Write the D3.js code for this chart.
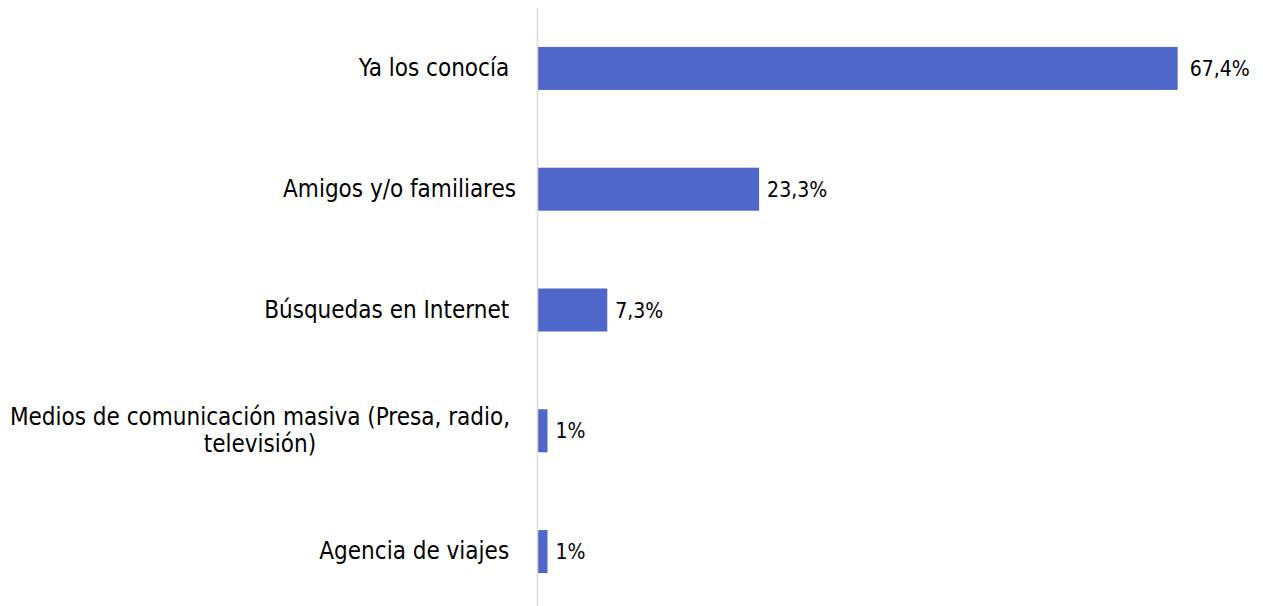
<!DOCTYPE html>
<html><head><meta charset="utf-8">
<script src="https://cdn.jsdelivr.net/npm/d3@7"></script>
<style>
html,body{margin:0;padding:0;background:#fff;}
svg{display:block;}
text{font-family:"DejaVu Sans Condensed","DejaVu Sans",sans-serif;fill:#000;white-space:pre;}
.cat{font-size:24px;}
.val{font-size:21px;}
</style></head>
<body><svg id="c" width="1263" height="606"></svg>
<script>
const categories = ["Ya los conocía ", "Amigos y/o familiares", "Búsquedas en Internet ", "Medios de comunicación masiva (Presa, radio, televisión)", "Agencia de viajes "];
const values = [67.4, 23.3, 7.3, 1, 1];
const valueLabels = ["67,4%", "23,3%", "7,3%", "1%", "1%"];

const svg = d3.select("#c");
const x0 = 538;
const x = d3.scaleLinear().domain([0, 100]).range([x0, x0 + 949]);
const y = d3.scaleBand().domain(categories).range([8, 612]).paddingInner(0.644).paddingOuter(0.322);

svg.selectAll("rect.bar").data(categories).enter().append("rect")
  .attr("class","bar")
  .attr("x", x(0))
  .attr("y", d => y(d))
  .attr("width", (d,i) => x(values[i]) - x(0))
  .attr("height", y.bandwidth())
  .attr("fill", "#4e67c8");

// axis line
svg.append("line").attr("x1", x0 - 0.5).attr("x2", x0 - 0.5).attr("y1", 8).attr("y2", 606)
  .attr("stroke", "#d9d9d9").attr("stroke-width", 1.5);

// value labels
svg.selectAll("text.val").data(categories).enter().append("text")
  .attr("class","val")
  .attr("x", (d,i) => x(values[i]) + (i === 0 ? 12 : 8))
  .attr("y", d => y(d) + y.bandwidth()/2)
  .attr("dy", "0.36em")
  .text((d,i) => valueLabels[i]);

// category labels with wrapping
const rightEdge = 516;
const maxW = 525;
categories.forEach(c => {
  const cy = y(c) + y.bandwidth()/2;
  const g = svg.append("g");
  const words = c.split(" ");
  const lines = [];
  let cur = "";
  const tmp = g.append("text").attr("class","cat");
  words.forEach(w => {
    const t = cur ? cur + " " + w : w;
    tmp.text(t);
    if (tmp.node().getComputedTextLength() > maxW && cur) { lines.push(cur); cur = w; }
    else cur = t;
  });
  lines.push(cur);
  tmp.remove();
  if (lines.length === 1) {
    g.append("text").attr("class","cat").attr("x", rightEdge).attr("y", cy).attr("dy","0.32em")
      .attr("text-anchor","end").text(lines[0]);
  } else {
    const widths = lines.map(l => { const t = g.append("text").attr("class","cat").text(l); const w = t.node().getComputedTextLength(); t.remove(); return w; });
    const mw = d3.max(widths);
    const cx = rightEdge - 6 - mw/2;
    const lh = 27;
    lines.forEach((l,i) => {
      g.append("text").attr("class","cat").attr("text-anchor","middle")
        .attr("x", cx).attr("y", cy + (i - (lines.length-1)/2)*lh).attr("dy","0.32em").text(l);
    });
  }
});
</script></body></html>
